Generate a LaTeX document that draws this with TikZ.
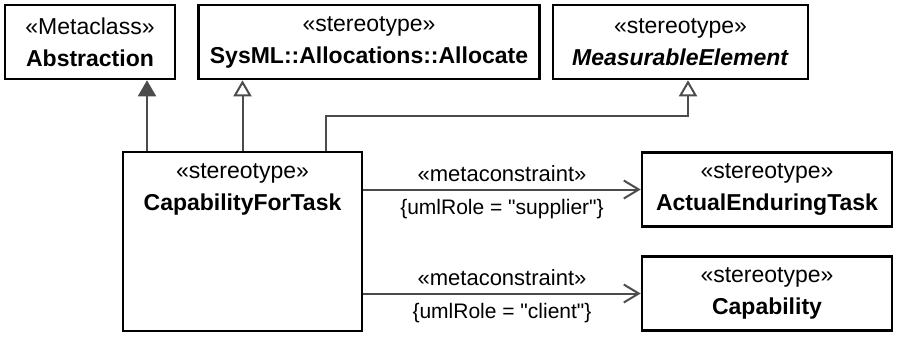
\documentclass[tikz,border=0pt]{standalone}
\usepackage{fontspec}
\setmainfont{Liberation Sans}
\usetikzlibrary{positioning, arrows.meta}

\begin{document}
\begin{tikzpicture}[
    x=0.5pt, y=-0.5pt,
    cls/.style={draw, line width=1.3pt, align=center, minimum height=37pt, inner sep=0pt, font=\fontsize{11.5}{16}\selectfont},
    conn/.style={draw=black!70, line width=1pt},
    gen/.style={-{Triangle[open, width=9pt, length=8pt]}},
    inh/.style={-{Triangle[width=9pt, length=8pt, fill=black!70]}},
    dep/.style={-{Straight Barb[width=9pt, length=7.5pt]}},
    lbl/.style={font=\fontsize{11}{13}\selectfont},
    cons/.style={font=\fontsize{10.5}{13}\selectfont}
]
\useasboundingbox (0,0) rectangle (898,339);

\node[cls, minimum width=85pt] (abstraction) at (90,42) {«Metaclass»\\\textbf{Abstraction}};
\node[cls, minimum width=170.5pt] (sysml) at (369,42) {«stereotype»\\\textbf{SysML::Allocations::Allocate}};
\node[cls, minimum width=127.5pt] (meas) at (680.5,42) {«stereotype»\\\textbf{\textit{MeasurableElement}}};
\node[cls, minimum width=119.5pt, minimum height=89.5pt] (cft) at (242.5,241.5) {};
\node[cls, draw=none, anchor=north] (cftname) at (cft.north) {«stereotype»\\\textbf{CapabilityForTask}};
\node[cls, minimum width=125pt] (aet) at (767,189.5) {«stereotype»\\\textbf{ActualEnduringTask}};
\node[cls, minimum width=125pt] (cap) at (767,293.5) {«stereotype»\\\textbf{Capability}};

% generalizations
\coordinate (absfoot) at ([xshift=12.65pt]cft.north west);
\coordinate (measfoot) at ([xshift=41.75pt]cft.north);
\coordinate (meashead) at ([xshift=3.75pt]meas.south);
\draw[conn, inh] (absfoot) -- (absfoot |- abstraction.south);
\draw[conn, gen] (cft.north) -- (cft.north |- sysml.south);
\draw[conn, gen] (measfoot) -- ++(0,-35) -| (meashead);

% metaconstraints
\draw[conn, dep] (cft.east |- aet) -- (aet.west)
    node[midway, above, lbl] (mc1) {«metaconstraint»}
    node[midway, below, cons, yshift=-1pt] (role1) {\{umlRole = \textquotedbl supplier\textquotedbl\}};
\draw[conn, dep] (cft.east |- cap) -- (cap.west)
    node[midway, above, lbl] (mc2) {«metaconstraint»}
    node[midway, below, cons, yshift=-1pt] (role2) {\{umlRole = \textquotedbl client\textquotedbl\}};
\end{tikzpicture}
\end{document}
